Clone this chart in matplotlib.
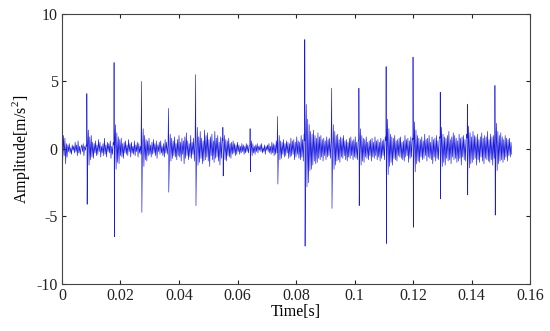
import numpy as np
import matplotlib
matplotlib.use("Agg")
import matplotlib.pyplot as plt

# sample step of the background signal [s]
dt = 0.00025

# impulse times [s], positive peaks and negative troughs [m/s^2]
impulse_times = [0.0085, 0.0178, 0.0272, 0.0364, 0.0457, 0.0550, 0.0643, 0.0737,
                 0.0830, 0.0922, 0.1015, 0.1108, 0.1200, 0.1293, 0.1386, 0.1480]
impulse_peaks = [4.1, 6.4, 5.0, 3.0, 5.5, 1.6, 1.5, 2.4,
                 8.1, 4.5, 4.5, 6.1, 6.8, 4.2, 3.3, 4.7]
impulse_troughs = [-4.1, -6.5, -4.7, -3.2, -4.2, -2.0, -1.7, -2.6,
                   -7.2, -4.4, -4.2, -7.0, -5.8, -3.7, -3.4, -4.9]

# background vibration (one value per dt)
background = [
    0.6, -0.9, 1.0, -0.5, 0.8, -1.1, 0.4, -0.6, 0.3, -0.2, 0.4, -0.3, 0.1, -0.4, 0.3, -0.1, 0.2, -0.3, 0.5, -0.2,
    0.3, -0.5, 0.6, -0.3, 0.2, -0.4, 0.1, 0.3, -0.2, 0.4, -0.5, 0.2, -0.1, 0.3, 0.2, -0.3,
    1.4, -1.2, 0.9, -0.8, 1.0, -0.6, 0.5, -0.7, 0.4, -0.3, 0.6, -0.5, 0.3, -0.4, 0.7, -0.2, 0.5, -0.6, 0.2, -0.3,
    0.4, -0.5, 0.8, -0.4, 0.3, -0.6, 0.5, -0.2, 0.4, -0.3, 0.6, -0.7, 0.2, -0.4, 0.5, 0.3, -0.4,
    1.8, -1.5, 1.2, -1.0, 0.9, -1.1, 0.7, -0.5, 0.8, -0.6, 0.4, -0.7, 0.5, -0.3, 0.6, -0.4, 0.3, -0.5, 0.7, -0.2,
    0.4, -0.6, 0.5, -0.3, 0.2, -0.4, 0.6, -0.5, 0.3, -0.2, 0.5, -0.6, 0.4, -0.3, 0.2, -0.4, 0.3, -0.2,
    1.5, -1.3, 1.0, -0.8, 0.7, -0.9, 0.6, -0.5, 0.8, -0.4, 0.3, -0.6, 0.5, -0.4, 0.7, -0.3, 0.4, -0.5, 0.6, -0.7,
    0.3, -0.2, 0.5, -0.4, 0.6, -0.3, 0.2, -0.5, 0.4, -0.6, 0.7, -0.3, 0.5, -0.4, 0.3, 0.4, -0.5,
    1.1, -0.9, 0.8, -0.7, 0.6, -0.5, 0.9, -0.6, 0.4, -0.8, 0.7, -0.5, 1.0, -0.6, 0.5, -0.9, 0.8, -0.4, 0.6, -1.1,
    0.9, -0.7, 1.2, -0.5, 0.6, -0.8, 0.4, -0.6, 1.0, -0.7, 0.5, -0.4, 0.8, -0.9, 0.6, 0.5, -0.6,
    1.6, -1.2, 0.9, -1.0, 1.3, -0.7, 0.8, -1.1, 0.6, -0.9, 1.4, -0.8, 1.0, -0.6, 1.2, -0.9, 0.7, -1.3, 0.9, -0.5,
    1.1, -0.8, 0.6, -1.0, 1.3, -0.7, 0.8, -0.6, 1.0, -0.9, 0.5, -1.2, 0.9, -0.7, 0.8, 0.6, -0.7,
    1.0, -0.8, 0.7, -0.9, 0.6, -0.5, 0.8, -0.6, 0.4, -0.7, 0.5, -0.4, 0.6, -0.3, 0.4, -0.5, 0.3, -0.4, 0.5, -0.2,
    0.3, -0.4, 0.2, -0.3, 0.4, -0.2, 0.3, -0.4, 0.2, -0.3, 0.4, -0.2, 0.3, -0.3, 0.2, 0.3, -0.3,
    0.6, -0.5, 0.4, -0.3, 0.2, -0.4, 0.3, -0.2, 0.4, -0.3, 0.2, -0.1, 0.3, -0.2, 0.4, -0.3, 0.1, -0.2, 0.3, -0.4,
    0.2, -0.1, 0.3, -0.2, 0.4, -0.3, 0.2, -0.4, 0.5, -0.3, 0.4, -0.5, 0.3, -0.4, 0.6, -0.3, 0.4, -0.3,
    1.0, -0.8, 0.6, -0.7, 0.5, -0.4, 0.7, -0.6, 0.4, -0.5, 0.6, -0.3, 0.5, -0.7, 0.4, -0.6, 0.8, -0.5, 0.6, -0.4,
    0.7, -0.8, 0.5, -0.6, 0.9, -0.4, 0.6, -0.7, 0.5, -0.8, 1.0, -0.6, 0.7, -0.9, 1.1, 0.6, -0.8,
    3.3, -2.8, 2.2, -2.5, 1.8, -1.6, 1.3, -1.5, 1.1, -1.2, 1.4, -0.9, 1.0, -1.1, 0.8, -1.0, 1.2, -0.7, 0.9, -0.8,
    1.0, -0.6, 0.7, -0.9, 0.8, -0.5, 0.6, -0.8, 0.9, -0.6, 0.7, -0.5, 0.8, -0.7, 0.6, 0.5, -0.6,
    1.8, -1.5, 1.3, -1.2, 1.0, -0.9, 1.1, -0.8, 0.7, -1.0, 0.9, -0.6, 0.8, -0.7, 1.0, -0.5, 0.6, -0.8, 0.7, -0.9,
    0.5, -0.6, 0.8, -0.7, 0.9, -0.5, 0.6, -0.8, 0.7, -0.6, 0.9, -0.7, 0.5, -0.8, 0.6, 0.7, -0.6,
    1.5, -1.2, 1.0, -0.9, 0.8, -1.0, 0.7, -0.6, 0.9, -0.7, 0.5, -0.8, 0.6, -0.5, 0.7, -0.9, 0.8, -0.6, 0.5, -0.7,
    0.9, -0.5, 0.6, -0.8, 0.7, -0.6, 0.5, -0.9, 0.8, -0.7, 0.6, -0.5, 0.7, -0.8, 0.9, 0.6, -0.7,
    2.2, -1.9, 1.5, -1.3, 1.1, -1.0, 0.9, -1.2, 0.8, -0.7, 1.0, -0.8, 0.6, -0.9, 0.7, -0.5, 0.8, -0.6, 0.9, -0.7,
    0.5, -0.8, 0.6, -0.9, 1.0, -0.6, 0.7, -0.5, 0.8, -1.0, 0.6, -0.7, 0.9, -0.6, 0.8, 0.7, -0.8,
    2.0, -1.7, 1.4, -1.1, 1.0, -0.9, 0.8, -1.0, 0.7, -0.6, 0.9, -0.8, 0.6, -0.7, 1.1, -0.5, 0.7, -0.9, 0.8, -0.6,
    1.0, -0.7, 0.5, -0.8, 0.9, -1.1, 0.7, -0.6, 0.8, -0.9, 1.0, -0.7, 0.6, -0.8, 0.9, 0.8, -0.7,
    1.6, -1.3, 1.1, -1.0, 0.9, -1.2, 0.8, -0.7, 1.0, -0.9, 1.3, -0.8, 0.7, -1.1, 0.9, -0.6, 1.2, -0.8, 1.0, -0.7,
    0.8, -1.0, 0.6, -0.9, 1.1, -0.7, 0.8, -1.2, 0.9, -0.6, 1.0, -0.8, 0.7, -0.9, 1.1, 0.8, -0.9,
    1.7, -1.4, 1.2, -1.1, 0.9, -1.0, 1.3, -0.8, 1.0, -0.7, 0.9, -1.2, 1.1, -0.8, 0.7, -1.0, 0.9, -0.6, 1.2, -0.9,
    0.8, -1.1, 1.0, -0.7, 0.9, -0.8, 1.3, -0.9, 0.7, -1.0, 1.1, -0.8, 0.9, -1.2, 1.0, -0.7, 0.9, -0.8,
    1.9, -1.6, 1.3, -1.1, 1.0, -0.9, 1.2, -0.8, 0.9, -1.0, 0.7, -0.8, 1.0, -0.6, 0.8, -0.9, 0.7, -0.5, 0.8, -0.6,
    0.5, -0.4,
]

xticks = [0, 0.02, 0.04, 0.06, 0.08, 0.1, 0.12, 0.14, 0.16]
xtick_labels = ["0", "0.02", "0.04", "0.06", "0.08", "0.1", "0.12", "0.14", "0.16"]
yticks = [-10, -5, 0, 5, 10]

# merge background and impulses on one time axis
t_bg = np.arange(len(background)) * dt
t_imp = np.array(impulse_times)
t_all = np.concatenate([t_bg, t_imp, t_imp + 0.0001])
y_all = np.concatenate([background, impulse_peaks, impulse_troughs])
order = np.argsort(t_all, kind="stable")
t_all = t_all[order]
y_all = y_all[order]

plt.rcParams["font.family"] = ["Liberation Serif", "DejaVu Serif"]
plt.rcParams["mathtext.fontset"] = "custom"
plt.rcParams["mathtext.rm"] = "Liberation Serif"
plt.rcParams["axes.unicode_minus"] = False

fig = plt.figure(figsize=(5.5, 3.31), dpi=100)
ax = fig.add_axes([0.1127, 0.142, 0.851, 0.816])
ax.plot(t_all, y_all, color="#1a1ae0", linewidth=0.45)

ax.set_xlim(0, 0.16)
ax.set_ylim(-10, 10)
ax.set_xticks(xticks)
ax.set_xticklabels(xtick_labels)
ax.set_yticks(yticks)
ax.tick_params(direction="in", length=3, width=0.8, top=True, right=True,
               labelsize=11.5, colors="#222222", pad=3)
for s in ax.spines.values():
    s.set_color("#444444")
    s.set_linewidth(0.8)

ax.set_xlabel("Time[s]", fontsize=11.5, labelpad=0)
ax.set_ylabel("Amplitude[m/s$^2$]", fontsize=11.5, labelpad=3)

fig.savefig("out.png", dpi=100)
